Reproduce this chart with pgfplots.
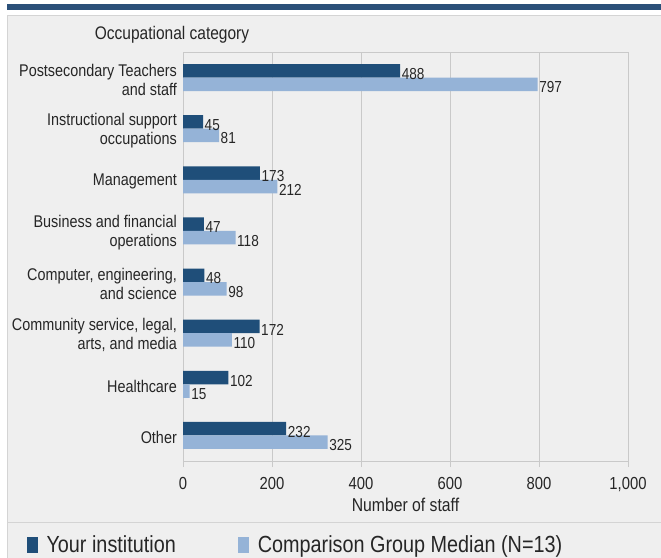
\documentclass[border=0pt]{standalone}
\usepackage{pgfplots}
\pgfplotsset{compat=1.18}
\usepackage{fontspec}
\setmainfont[FakeStretch=0.85]{Liberation Sans}
\definecolor{darkbar}{HTML}{1F4E79}
\definecolor{lightbar}{HTML}{95B3D7}
\definecolor{band}{HTML}{2B5079}
\definecolor{panel}{HTML}{EFEFEF}
\definecolor{panelborder}{HTML}{D4D4D4}
\definecolor{gridc}{HTML}{C9C9C9}
\definecolor{txt}{HTML}{262626}
\begin{document}
\begin{tikzpicture}
\useasboundingbox (0bp,0bp) rectangle (661bp,558bp);
\fill[white] (0bp,0bp) rectangle (661bp,558bp);
\fill[band] (7bp,548bp) rectangle (661bp,554bp);
\filldraw[fill=panel, draw=panelborder, line width=0.8bp] (7.4bp,-2bp) rectangle (663bp,543bp);
\draw[panelborder, line width=1bp] (7.4bp,35bp) -- (661bp,35bp);
\begin{axis}[
  at={(183bp,97bp)}, anchor=south west,
  scale only axis, width=445bp, height=409bp,
  xbar, bar width=13.5bp,
  xmin=0, xmax=1000, ymin=-0.5, ymax=7.5,
  axis background/.style={fill=panel},
  axis line style={gridc, line width=0.8bp},
  xmajorgrids, major grid style={gridc, line width=0.8bp},
  xtick={0,200,...,1000},
  xtick pos=bottom, tick align=outside, major tick length=6bp,
  every tick/.style={gridc, line width=0.8bp},
  ytick={0,...,7}, ytick style={draw=none},
  yticklabels={Other, Healthcare, {Community service, legal,\\arts, and media}, {Computer, engineering,\\and science}, {Business and financial\\operations}, Management, {Instructional support\\occupations}, {Postsecondary Teachers\\and staff}},
  yticklabel style={font=\fontsize{17}{19}\selectfont, align=right, text=txt, inner sep=0pt, anchor=east, xshift=0bp, yshift=-2bp},
  xticklabel style={font=\fontsize{17.5}{20}\selectfont, text=txt, anchor=base, yshift=-22.7bp},
  /pgf/number format/assume math mode=true,
  /pgf/number format/1000 sep={,},
  xlabel={Number of staff}, ylabel={Occupational category},
  every axis x label/.style={at={(axis description cs:0.5,0)}, anchor=base, yshift=-50.7bp, font=\fontsize{18.6}{21}\selectfont, text=txt},
  every axis y label/.style={at={(axis description cs:-0.0247,1.0318)}, anchor=base, font=\fontsize{18.3}{21}\selectfont, text=txt},
  nodes near coords,
  nodes near coords style={font=\fontsize{16}{18}\selectfont, text=txt, anchor=west, inner xsep=1.5bp, inner ysep=0pt, yshift=-3bp},
  legend columns=2,
  legend style={at={(rel axis cs:-0.3520,-0.2054)}, anchor=west, draw=none, fill=none, inner sep=0pt,
    font=\fontsize{23.4}{26}\selectfont, text=txt,
    /tikz/every odd column/.append style={column sep=7bp},
    /tikz/every even column/.append style={column sep=60bp}},
  legend image code/.code={\fill[#1] (0bp,-8bp) rectangle (11bp,8bp);},
]
\addplot[fill=darkbar, draw=none, bar shift=6.75bp] coordinates {(488,7) (45,6) (173,5) (47,4) (48,3) (172,2) (102,1) (232,0)};
\addplot[fill=lightbar, draw=none, bar shift=-6.75bp] coordinates {(797,7) (81,6) (212,5) (118,4) (98,3) (110,2) (15,1) (325,0)};
\legend{Your institution, Comparison Group Median (N=13)}
\end{axis}
\end{tikzpicture}
\end{document}
